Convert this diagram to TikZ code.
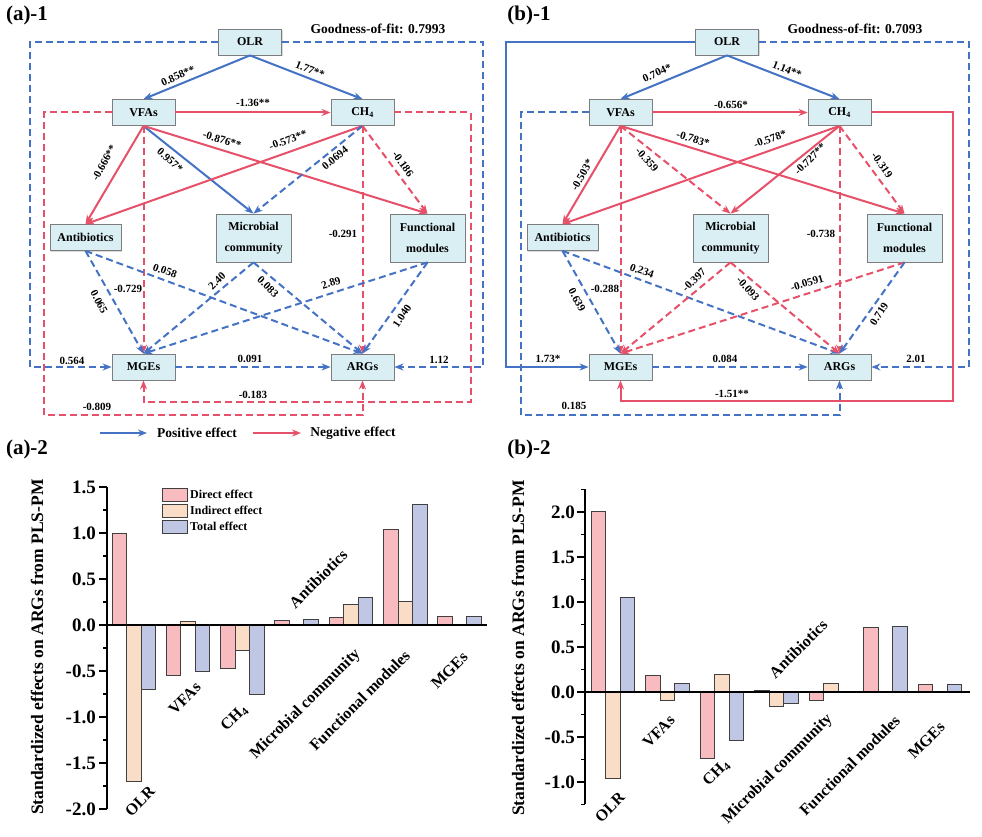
\documentclass[tikz,border=0pt]{standalone}
\usepackage{fontspec}
\setmainfont{Liberation Serif}
\usetikzlibrary{arrows.meta,shadows}
\definecolor{myblue}{RGB}{68,114,196}
\definecolor{myred}{RGB}{230,80,105}
\definecolor{mycyan}{RGB}{217,239,244}
\definecolor{myedge}{RGB}{125,125,125}
\definecolor{mydirect}{RGB}{248,188,192}
\definecolor{myindirect}{RGB}{250,221,198}
\definecolor{mytotal}{RGB}{192,199,229}

\begin{document}
\begin{tikzpicture}[x=1pt,y=-1pt,
	varnode/.style={draw=myedge,fill=mycyan,line width=0.8pt,minimum width=63pt,minimum height=26pt,align=center,
		font=\fontsize{12}{13}\selectfont\bfseries,drop shadow={shadow xshift=1pt,shadow yshift=-1pt,opacity=0.3}},
	widenode/.style={varnode,minimum width=75pt,minimum height=48pt,font=\fontsize{12}{21}\selectfont\bfseries},
	posline/.style={myblue,line width=2pt,-{Stealth[length=9pt,width=7pt]}},
	negline/.style={myred,line width=2pt,-{Stealth[length=9pt,width=7pt]}},
	posdash/.style={posline,dash pattern=on 7pt off 4pt},
	negdash/.style={negline,dash pattern=on 7pt off 4pt},
	coef/.style={font=\fontsize{11}{12}\selectfont\bfseries,inner sep=1pt},
	panellbl/.style={font=\fontsize{21}{22}\selectfont\bfseries,inner sep=0pt},
	bigtxt/.style={font=\fontsize{13.5}{14}\selectfont\bfseries,inner sep=1pt},
	barbox/.style={draw=black!75,line width=1pt},
	axisline/.style={black,line width=1.6pt},
	ticklbl/.style={font=\fontsize{19}{20}\selectfont\bfseries,inner sep=1pt,anchor=east},
	axistitle/.style={font=\fontsize{17.5}{18}\selectfont\bfseries,rotate=90,inner sep=0pt},
	catlbl/.style={font=\fontsize{16}{17}\selectfont\bfseries,rotate=45,inner sep=1pt},
	keylbl/.style={font=\fontsize{12}{13}\selectfont\bfseries,inner sep=1pt,anchor=west},
	]
	\useasboundingbox (0,0) rectangle (982,837);

	% panel titles
	\node[panellbl] (ta1) at (27,15) {(a)-1};
	\node[panellbl] (tb1) at (529,15) {(b)-1};
	\node[panellbl] (ta2) at (27,449) {(a)-2};
	\node[panellbl] (tb2) at (529,449) {(b)-2};
	\node[bigtxt] (gofa) at (378,29) {Goodness-of-fit: 0.7993};
	\node[bigtxt] (gofb) at (855,29) {Goodness-of-fit: 0.7093};

	% the variable boxes, same layout in both models
	\foreach \p/\dx in {a/0,b/477}{
	\begin{scope}[xshift=\dx pt]
	\node[varnode] (\p olr) at (250,42) {OLR};
	\node[varnode] (\p vfa) at (143.5,112.5) {VFAs};
	\node[varnode] (\p ch4) at (362.5,112.5) {CH\textsubscript{4}};
	\node[varnode,minimum width=71pt] (\p ant) at (85.5,237.5) {Antibiotics};
	\node[widenode] (\p mic) at (253.5,238) {Microbial\\community};
	\node[widenode] (\p fun) at (427.5,238) {Functional\\modules};
	\node[varnode] (\p mge) at (143.5,367) {MGEs};
	\node[varnode] (\p arg) at (362.5,367) {ARGs};
	\end{scope}
	}

	% corners of the outer paths
	\coordinate (aoutL) at (30,0);
	\coordinate (ainL) at (44,0);
	\coordinate (ainR) at (471,0);
	\coordinate (aoutR) at (483,0);
	\coordinate (abotO) at (0,415);
	\coordinate (abotI) at (0,402);
	\coordinate (boutL) at (506,0);
	\coordinate (binL) at (521,0);
	\coordinate (binR) at (953,0);
	\coordinate (boutR) at (969,0);
	\coordinate (bbotO) at (0,415);
	\coordinate (bbotI) at (0,401);

	% (a)-1 paths
	\draw[posdash] (aolr.west) -- (aolr.west -| aoutL) -- (amge.west -| aoutL) -- (amge.west);
	\draw[posdash] (aolr.east) -- (aolr.east -| aoutR) -- (aarg.east -| aoutR) -- (aarg.east);
	\draw[negdash] (avfa.west) -- (avfa.west -| ainL) -- (abotO -| ainL) -- (abotO -| aarg.south) -- (aarg.south);
	\draw[negdash] (ach4.east) -- (ach4.east -| ainR) -- (abotI -| ainR) -- (abotI -| amge.south) -- (amge.south);
	\draw[posline] (aolr.south) -- (avfa.north);
	\draw[posline] (aolr.south) -- (ach4.north);
	\draw[negline] (avfa.east) -- (ach4.west);
	\draw[negline] (avfa.south) -- (aant.north);
	\draw[posline] (avfa.south) -- (amic.north);
	\draw[negline] (avfa.south) -- (afun.north);
	\draw[negline] (ach4.south) -- (aant.north);
	\draw[posdash] (ach4.south) -- (amic.north);
	\draw[negdash] (ach4.south) -- (afun.north);
	\draw[negdash] (avfa.south) -- (amge.north);
	\draw[negdash] (ach4.south) -- (aarg.north);
	\draw[posdash] (aant.south) -- (amge.north);
	\draw[posdash] (aant.south) -- (aarg.north);
	\draw[posdash] (amic.south) -- (amge.north);
	\draw[posdash] (amic.south) -- (aarg.north);
	\draw[posdash] (afun.south) -- (amge.north);
	\draw[posdash] (afun.south) -- (aarg.north);
	\draw[posdash] (amge.east) -- (aarg.west);

	% (b)-1 paths
	\draw[posline] (bolr.west) -- (bolr.west -| boutL) -- (bmge.west -| boutL) -- (bmge.west);
	\draw[posdash] (bolr.east) -- (bolr.east -| boutR) -- (barg.east -| boutR) -- (barg.east);
	\draw[posdash] (bvfa.west) -- (bvfa.west -| binL) -- (bbotO -| binL) -- (bbotO -| barg.south) -- (barg.south);
	\draw[negline] (bch4.east) -- (bch4.east -| binR) -- (bbotI -| binR) -- (bbotI -| bmge.south) -- (bmge.south);
	\draw[posline] (bolr.south) -- (bvfa.north);
	\draw[posline] (bolr.south) -- (bch4.north);
	\draw[negline] (bvfa.east) -- (bch4.west);
	\draw[negline] (bvfa.south) -- (bant.north);
	\draw[negdash] (bvfa.south) -- (bmic.north);
	\draw[negline] (bvfa.south) -- (bfun.north);
	\draw[negline] (bch4.south) -- (bant.north);
	\draw[negline] (bch4.south) -- (bmic.north);
	\draw[negdash] (bch4.south) -- (bfun.north);
	\draw[negdash] (bvfa.south) -- (bmge.north);
	\draw[negdash] (bch4.south) -- (barg.north);
	\draw[posdash] (bant.south) -- (bmge.north);
	\draw[posdash] (bant.south) -- (barg.north);
	\draw[negdash] (bmic.south) -- (bmge.north);
	\draw[negdash] (bmic.south) -- (barg.north);
	\draw[negdash] (bfun.south) -- (bmge.north);
	\draw[posdash] (bfun.south) -- (barg.north);
	\draw[posdash] (bmge.east) -- (barg.west);

	% path coefficients
	\foreach \nm/\xy/\r/\t in {
		ca1/{178,76}/24/0.858**, ca2/{310,70}/-22/1.77**, ca3/{253,103}/0/-1.36**,
		ca4/{104,163}/61/-0.666**, ca5/{170,160}/-42/0.957*, ca6/{222,140}/-17/-0.876**,
		ca7/{288,140}/20/-0.573**, ca8/{335,158}/39/0.0694, ca9/{403,164}/-54/-0.186,
		ca10/{128,289}/0/-0.729, ca11/{343,234}/0/-0.291, ca12/{99,302}/-62/0.065,
		ca13/{165,271}/-20/0.058, ca14/{217,281}/45/2.40, ca15/{268,287}/-45/0.083,
		ca16/{331,283}/18/2.89, ca17/{402,316}/56/1.040, ca18/{250,359}/0/0.091,
		ca19/{72,361}/0/0.564, ca20/{439,360}/0/1.12, ca21/{97,407}/0/-0.809,
		ca22/{253,395}/0/-0.183,
		cb1/{657,73}/24/0.704*, cb2/{787,70}/-22/1.14**, cb3/{731,105}/0/-0.656*,
		cb4/{582,175}/61/-0.503*, cb5/{647,160}/-48/-0.359, cb6/{693,139}/-17/-0.783*,
		cb7/{770,139}/20/-0.578*, cb8/{810,159}/45/-0.727**, cb9/{882,165}/-55/-0.319,
		cb10/{605,289}/0/-0.288, cb11/{821,234}/0/-0.738, cb12/{577,300}/-62/0.639,
		cb13/{642,271}/-20/0.234, cb14/{694,280}/45/-0.397, cb15/{748,289}/-48/-0.093,
		cb16/{807,283}/17/-0.0591, cb17/{879,314}/57/0.719, cb18/{725,359}/0/0.084,
		cb19/{548,359}/0/1.73*, cb20/{916,359}/0/2.01, cb21/{574,406}/0/0.185,
		cb22/{732,394}/0/-1.51**}
	\node[coef,rotate=\r] (\nm) at (\xy) {\t};

	% legend of the path models
	\coordinate (lgp1) at (100,433);
	\coordinate (lgp2) at (147,433);
	\coordinate (lgn1) at (253,433);
	\coordinate (lgn2) at (301,433);
	\draw[posline,line width=2.4pt] (lgp1) -- (lgp2);
	\draw[negline,line width=2.4pt] (lgn1) -- (lgn2);
	\node[bigtxt] (lgpt) at (197,433) {Positive effect};
	\node[bigtxt] (lgnt) at (353,433) {Negative effect};

	% (a)-2 bars
	\foreach \vd/\vi/\vt [count=\i from 0] in {1.00/-1.70/-0.70,-0.55/0.04/-0.50,-0.47/-0.28/-0.75,0.05/0/0.06,0.08/0.22/0.30,1.04/0.26/1.31,0.09/0/0.09}{
		\pgfmathsetmacro{\gx}{112+54.3*\i}
		\draw[barbox,fill=mydirect] (\gx,625) rectangle ++(14.5,{-92*(\vd)});
		\draw[barbox,fill=myindirect] ({\gx+14.5},625) rectangle ++(14.5,{-92*(\vi)});
		\draw[barbox,fill=mytotal] ({\gx+29},625) rectangle ++(14.5,{-92*(\vt)});
	}
	\draw[axisline] (107,625) -- (487,625);
	\draw[axisline] (107,487) -- (107,809);
	\foreach \v [count=\k] in {-2.0,-1.5,-1.0,-0.5,0.0,0.5,1.0,1.5}{
		\draw[axisline] (99,{625-92*\v}) -- (107,{625-92*\v});
		\node[ticklbl] (tka\k) at (97,{625-92*\v}) {\v};
	}
	\foreach \v in {-1.75,-1.25,-0.75,-0.25,0.25,0.75,1.25}
		\draw[axisline,line width=1.2pt] (103,{625-92*\v}) -- (107,{625-92*\v});
	\node[axistitle] (ya) at (37,647) {Standardized effects on ARGs from PLS-PM};
	\node[catlbl,anchor=east] (xa1) at (153,788) {OLR};
	\node[catlbl,anchor=east] (xa2) at (199,684) {VFAs};
	\node[catlbl,anchor=east] (xa3) at (246,707) {CH\textsubscript{4}};
	\node[catlbl,anchor=west] (xa4) at (291,606) {Antibiotics};
	\node[catlbl,anchor=east] (xa5) at (359,651) {Microbial community};
	\node[catlbl,anchor=east] (xa6) at (408,652) {Functional modules};
	\node[catlbl,anchor=east] (xa7) at (466,654) {MGEs};

	% key of the bars
	\draw[barbox,fill=mydirect] (162,488) rectangle (187,501);
	\draw[barbox,fill=myindirect] (162,504) rectangle (187,517);
	\draw[barbox,fill=mytotal] (162,520) rectangle (187,533);
	\node[keylbl] (kd) at (189,494.5) {Direct effect};
	\node[keylbl] (ki) at (189,510.5) {Indirect effect};
	\node[keylbl] (kt) at (189,526.5) {Total effect};

	% (b)-2 bars
	\foreach \vd/\vi/\vt [count=\i from 0] in {2.01/-0.96/1.05,0.18/-0.09/0.10,-0.74/0.20/-0.54,0.02/-0.16/-0.13,-0.09/0.10/0,0.72/0.01/0.73,0.084/0/0.084}{
		\pgfmathsetmacro{\gx}{591+54.5*\i}
		\draw[barbox,fill=mydirect] (\gx,692) rectangle ++(14.5,{-90*(\vd)});
		\draw[barbox,fill=myindirect] ({\gx+14.5},692) rectangle ++(14.5,{-90*(\vi)});
		\draw[barbox,fill=mytotal] ({\gx+29},692) rectangle ++(14.5,{-90*(\vt)});
	}
	\draw[axisline] (585,692) -- (970,692);
	\draw[axisline] (585,489) -- (585,804);
	\foreach \v [count=\k] in {-1.0,-0.5,0.0,0.5,1.0,1.5,2.0}{
		\draw[axisline] (577,{692-90*\v}) -- (585,{692-90*\v});
		\node[ticklbl] (tkb\k) at (576,{692-90*\v}) {\v};
	}
	\foreach \v in {-1.25,-0.75,-0.25,0.25,0.75,1.25,1.75,2.25}
		\draw[axisline,line width=1.2pt] (581,{692-90*\v}) -- (585,{692-90*\v});
	\node[axistitle] (yb) at (518,648) {Standardized effects on ARGs from PLS-PM};
	\node[catlbl,anchor=east] (xb1) at (623,794) {OLR};
	\node[catlbl,anchor=east] (xb2) at (673,717) {VFAs};
	\node[catlbl,anchor=east] (xb3) at (728,762) {CH\textsubscript{4}};
	\node[catlbl,anchor=west] (xb4) at (771,676) {Antibiotics};
	\node[catlbl,anchor=east] (xb5) at (831,716) {Microbial community};
	\node[catlbl,anchor=east] (xb6) at (898,717) {Functional modules};
	\node[catlbl,anchor=east] (xb7) at (943,724) {MGEs};
\end{tikzpicture}
\end{document}
